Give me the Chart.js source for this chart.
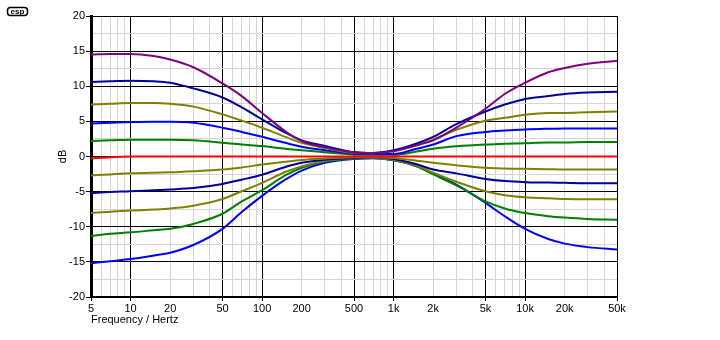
<!DOCTYPE html>
<html>
<head>
<meta charset="utf-8">
<script src="https://cdn.jsdelivr.net/npm/chart.js@4.4.0/dist/chart.umd.min.js"></script>
<style>
  html, body { margin: 0; padding: 0; background: #fff; }
</style>
</head>
<body>
<canvas id="toneChart" width="720" height="340"></canvas>
<script>
// frequency points (Hz)
const freqs = [5, 7, 10, 15, 20, 30, 50, 70, 100, 150, 200, 300, 500, 700,
  1000, 1500, 2000, 3000, 5000, 7000, 10000, 15000, 20000, 30000, 50000];

// response of each control setting (dB)
const boost1 = [14.5, 14.6, 14.6, 14.3, 13.8, 12.7, 10.4, 8.6, 6.2, 3.6, 2.2, 1.3, 0.6, 0.5,
  0.75, 1.6, 2.3, 4.1, 6.8, 8.9, 10.5, 12.0, 12.6, 13.2, 13.6];
const boost2 = [10.6, 10.7, 10.8, 10.7, 10.5, 9.7, 8.4, 7.0, 5.3, 3.4, 2.3, 1.5, 0.6, 0.5,
  0.9, 1.85, 2.8, 4.6, 6.4, 7.4, 8.2, 8.6, 8.9, 9.1, 9.2];
const boost3 = [7.4, 7.5, 7.6, 7.6, 7.5, 7.1, 6.0, 5.1, 4.1, 2.8, 1.95, 1.2, 0.5, 0.45,
  0.8, 1.6, 2.4, 3.8, 5.1, 5.5, 5.95, 6.2, 6.2, 6.3, 6.4];
const boost4 = [4.7, 4.8, 4.9, 4.95, 4.95, 4.8, 4.1, 3.5, 2.8, 1.95, 1.4, 0.9, 0.4, 0.35,
  0.35, 1.1, 1.7, 2.9, 3.5, 3.7, 3.85, 3.95, 4.0, 4.0, 4.0];
const boost5 = [2.2, 2.3, 2.4, 2.4, 2.4, 2.3, 1.95, 1.7, 1.5, 1.1, 0.9, 0.6, 0.3, 0.25,
  0.25, 0.7, 1.1, 1.45, 1.7, 1.8, 1.9, 2.0, 2.0, 2.05, 2.05];
const flat = [-0.3, -0.1, 0, 0, 0, 0, 0, 0, 0, 0, 0, 0, 0, 0,
  0, 0, 0, 0, 0, 0, 0, 0, 0, 0, 0];
const cut1 = [-2.7, -2.55, -2.4, -2.3, -2.25, -2.1, -1.85, -1.55, -1.15, -0.75, -0.5, -0.3, -0.1, -0.1,
  -0.2, -0.6, -0.9, -1.25, -1.6, -1.7, -1.75, -1.8, -1.85, -1.85, -1.85];
const cut2 = [-5.2, -5.05, -4.95, -4.8, -4.7, -4.5, -3.9, -3.3, -2.6, -1.5, -0.9, -0.45, -0.2, -0.15,
  -0.35, -1.1, -1.85, -2.4, -3.2, -3.5, -3.65, -3.7, -3.75, -3.8, -3.8];
const cut3 = [-8.05, -7.85, -7.7, -7.55, -7.4, -7.0, -6.05, -4.95, -3.75, -2.2, -1.4, -0.6, -0.25, -0.2,
  -0.45, -1.3, -2.3, -3.6, -4.95, -5.5, -5.8, -5.95, -6.05, -6.1, -6.1];
const cut4 = [-11.3, -11.0, -10.8, -10.5, -10.3, -9.6, -8.15, -6.4, -4.8, -2.7, -1.6, -0.7, -0.3, -0.2,
  -0.5, -1.4, -2.55, -4.1, -6.4, -7.4, -8.05, -8.5, -8.7, -8.9, -9.0];
const cut5 = [-15.2, -14.9, -14.6, -14.1, -13.7, -12.6, -10.3, -7.9, -5.6, -3.3, -2.0, -0.9, -0.35, -0.25,
  -0.55, -1.4, -2.45, -4.0, -6.6, -8.5, -10.3, -11.75, -12.4, -12.9, -13.25];

// axis ticks
const xTicks = [5, 6, 7, 8, 9, 10, 20, 30, 40, 50, 60, 70, 80, 90, 100, 200, 300, 400, 500, 600, 700, 800, 900,
  1000, 2000, 3000, 4000, 5000, 6000, 7000, 8000, 9000, 10000, 20000, 30000, 40000, 50000];
const xLabels = [5, 10, 20, 50, 100, 200, 500, 1000, 2000, 5000, 10000, 20000, 50000];
const xMajor = [5, 10, 50, 100, 500, 1000, 5000, 10000, 50000];
const yTicks = [-20, -17.5, -15, -12.5, -10, -7.5, -5, -2.5, 0, 2.5, 5, 7.5, 10, 12.5, 15, 17.5, 20];

const FONT = { family: '"Liberation Sans", Arial, sans-serif', size: 11 };
const GREY = '#d4d4d4';

function series(vals, color) {
  return {
    data: freqs.map((f, i) => ({ x: f, y: vals[i] })),
    borderColor: color,
    borderWidth: 2,
    pointRadius: 0,
    fill: false,
    cubicInterpolationMode: 'monotone'
  };
}

function fmtHz(v) {
  if (!xLabels.includes(v)) return '';
  return v >= 1000 ? (v / 1000) + 'k' : String(v);
}

// small esp badge in the corner
const logoPlugin = {
  id: 'logo',
  afterDraw(chart) {
    const c = chart.ctx;
    c.save();
    c.strokeStyle = '#000';
    c.lineWidth = 1.5;
    c.beginPath();
    c.roundRect(7.5, 7.5, 20, 8, 3);
    c.stroke();
    c.fillStyle = '#000';
    c.font = 'bold 8px "Liberation Sans", Arial, sans-serif';
    c.textAlign = 'center';
    c.textBaseline = 'middle';
    c.fillText('esp', 17.5, 11.5);
    c.restore();
  }
};

const ctx = document.getElementById('toneChart').getContext('2d');

new Chart(ctx, {
  type: 'line',
  data: {
    datasets: [
      series(flat, '#ff0000'),
      series(boost1, '#800080'),
      series(boost2, '#000099'),
      series(boost3, '#808000'),
      series(boost4, '#0000ff'),
      series(boost5, '#008000'),
      series(cut1, '#808000'),
      series(cut2, '#000099'),
      series(cut3, '#808000'),
      series(cut4, '#008000'),
      series(cut5, '#0000ff')
    ]
  },
  options: {
    responsive: false,
    animation: false,
    layout: { padding: { left: 0, top: 16, right: 103, bottom: 0 } },
    plugins: {
      legend: { display: false },
      tooltip: { enabled: false }
    },
    scales: {
      x: {
        type: 'logarithmic',
        min: 5,
        max: 50000,
        afterBuildTicks: s => { s.ticks = xTicks.map(v => ({ value: v })); },
        afterFit: s => { s.height = 43; },
        ticks: {
          autoSkip: false,
          maxRotation: 0,
          padding: 1,
          color: '#000',
          font: FONT,
          callback: v => fmtHz(v)
        },
        grid: {
          color: c => xMajor.includes(c.tick.value) ? '#000' : GREY,
          tickColor: c => xMajor.includes(c.tick.value) ? '#000' : 'rgba(0,0,0,0)',
          tickLength: 4
        },
        border: { color: '#000', width: 2 },
        title: {
          display: true,
          text: 'Frequency / Hertz',
          align: 'start',
          color: '#000',
          font: FONT,
          padding: { top: 0, bottom: 13 }
        }
      },
      y: {
        min: -20,
        max: 20,
        afterBuildTicks: s => { s.ticks = yTicks.map(v => ({ value: v })); },
        afterFit: s => { s.width = 91; },
        ticks: {
          padding: 1,
          color: '#000',
          font: FONT,
          callback: v => (v % 5 === 0 ? String(v) : '')
        },
        grid: {
          color: c => (c.tick.value % 5 === 0 ? '#000' : GREY),
          tickColor: c => (c.tick.value % 5 === 0 ? '#000' : 'rgba(0,0,0,0)'),
          tickLength: 5
        },
        border: { color: '#000', width: 3 },
        title: {
          display: true,
          text: 'dB',
          color: '#000',
          font: FONT,
          padding: { top: 56, bottom: 0 }
        }
      }
    }
  },
  plugins: [logoPlugin]
});
</script>
</body>
</html>
